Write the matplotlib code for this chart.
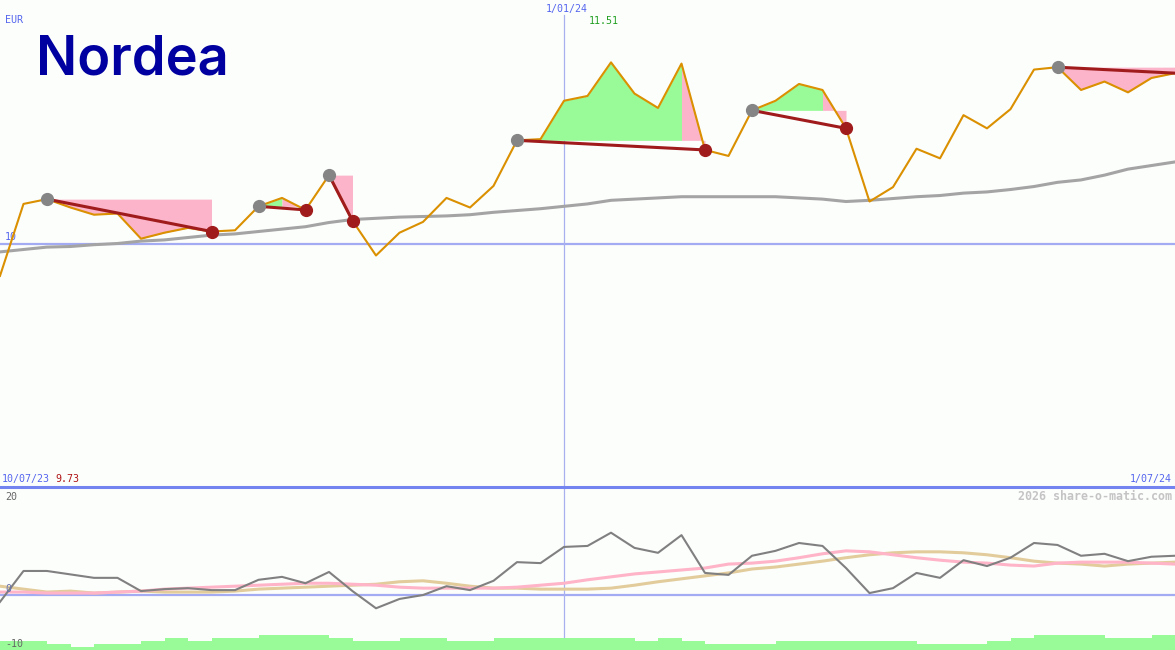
import matplotlib

matplotlib.use("Agg")

import matplotlib.pyplot as plt
import numpy as np
from matplotlib.lines import Line2D

# weekly closes, 10/07/23 .. 1/07/24
price = [9.73, 10.33, 10.37, 10.30, 10.24, 10.25, 10.04, 10.09, 10.13, 10.10,
         10.11, 10.31, 10.38, 10.28, 10.57, 10.19, 9.90, 10.09, 10.18, 10.38,
         10.30, 10.48, 10.86, 10.87, 11.19, 11.23, 11.51, 11.25, 11.13, 11.50,
         10.78, 10.73, 11.11, 11.19, 11.33, 11.28, 10.96, 10.35, 10.47, 10.79,
         10.71, 11.07, 10.96, 11.12, 11.45, 11.47, 11.28, 11.35, 11.26, 11.38,
         11.42]
avg = [9.93, 9.95, 9.97, 9.975, 9.99, 10.00, 10.02, 10.03, 10.05, 10.07,
       10.08, 10.10, 10.12, 10.14, 10.175, 10.20, 10.21, 10.22, 10.225, 10.23,
       10.24, 10.26, 10.275, 10.29, 10.31, 10.33, 10.36, 10.37, 10.38, 10.39,
       10.39, 10.39, 10.39, 10.39, 10.38, 10.37, 10.35, 10.36, 10.375, 10.39,
       10.40, 10.42, 10.43, 10.45, 10.475, 10.51, 10.53, 10.57, 10.62, 10.65,
       10.68]
# (peak, exit) week indices of the drawn patterns; exit None = still open
patterns = [(2, 9), (11, 13), (14, 15), (22, 30), (32, 36), (45, None)]

osc = [-1.4, 4.9, 4.9, 4.2, 3.5, 3.5, 0.8, 1.2, 1.4, 1.0, 1.0, 3.1, 3.7, 2.4,
       4.7, 0.8, -2.7, -0.8, 0.0, 1.8, 1.0, 2.9, 6.7, 6.5, 9.8, 10.0, 12.7, 9.6,
       8.6, 12.2, 4.5, 4.1, 8.0, 9.0, 10.6, 10.0, 5.5, 0.4, 1.4, 4.5, 3.5, 7.1,
       5.9, 7.6, 10.6, 10.2, 8.0, 8.4, 6.9, 7.8, 8.0]
sig_pink = [0.6, 0.6, 0.4, 0.4, 0.4, 0.6, 0.8, 1.2, 1.4, 1.6, 1.8, 2.0, 2.2,
            2.4, 2.4, 2.2, 2.0, 1.6, 1.4, 1.4, 1.4, 1.4, 1.6, 2.0, 2.4, 3.1,
            3.7, 4.3, 4.7, 5.1, 5.5, 6.3, 6.5, 6.9, 7.6, 8.4, 9.0, 8.8, 8.2,
            7.6, 7.1, 6.7, 6.5, 6.1, 5.9, 6.5, 6.7, 6.7, 6.7, 6.5, 6.3]
sig_tan = [1.8, 1.2, 0.6, 0.8, 0.4, 0.6, 0.8, 0.6, 0.6, 0.6, 0.8, 1.2, 1.4,
           1.6, 1.8, 2.0, 2.2, 2.7, 2.9, 2.4, 1.8, 1.4, 1.4, 1.2, 1.2, 1.2,
           1.4, 2.0, 2.7, 3.3, 3.9, 4.5, 5.3, 5.7, 6.3, 6.9, 7.6, 8.2, 8.6,
           8.8, 8.8, 8.6, 8.2, 7.6, 6.9, 6.5, 6.3, 5.9, 6.3, 6.5, 6.7]
volume = [3, 3, 2, 1, 2, 2, 3, 4, 3, 4, 4, 5, 5, 5, 4, 3, 3, 4, 4, 3, 3, 4,
          4, 4, 4, 4, 4, 3, 4, 3, 2, 2, 2, 3, 3, 3, 3, 3, 3, 2, 2, 2, 3, 4, 5,
          5, 5, 4, 4, 5]

new_year = 24
labels = {"start": "10/07/23", "mid": "1/01/24", "end": "1/07/24"}

BG = "#fcfefc"
BLUE = "#5566ee"
PINK = "#fbb4c9"
GREEN = "#98fb98"
DARKRED = "#a01c1c"
MONO = "DejaVu Sans Mono"

x = np.arange(len(price))
p = np.array(price)
last = len(price) - 1

fig = plt.figure(figsize=(11.75, 6.5), dpi=100, facecolor=BG)
H = 650.0
top = fig.add_axes([0, 163 / H, 1, 487 / H])
vol = fig.add_axes([0, 0, 1, 30 / H], zorder=0)
bot = fig.add_axes([0, 0, 1, 161 / H], zorder=1)
for ax in (top, bot, vol):
    ax.set_facecolor("none")
    ax.axis("off")
    ax.set_xlim(0, last)

top.set_ylim(7.97, 12.03)
bot.set_ylim(-11.2, 21.6)
vol.set_ylim(0, 10)

# ---- price panel
top.axhline(10, color="#a3abf2", lw=1.6, zorder=1)
top.axvline(new_year, ymax=0.969, color="#a8b0ee", lw=0.9, zorder=1)

for s, e in patterns:
    end = e if e is not None else last
    level = p[s]
    # segment colour: green while the week closes above the peak level
    cols = [GREEN if p[k + 1] > level else PINK for k in range(s, end)]
    k0 = s
    while k0 < end:
        k1 = k0
        while k1 + 1 < end and cols[k1 + 1 - s] == cols[k0 - s]:
            k1 += 1
        top.fill_between(x[k0:k1 + 2], level, p[k0:k1 + 2],
                         color=cols[k0 - s], lw=0, zorder=2)
        k0 = k1 + 1

top.plot(x, avg, color="#a4a4a4", lw=2.2, zorder=3)
top.plot(x, price, color="#da9000", lw=1.5, zorder=4)

for s, e in patterns:
    end = e if e is not None else last
    top.plot([s, end], [p[s], p[end]], color=DARKRED, lw=2.2, zorder=5)
    top.plot(s, p[s], "o", ms=8.5, color="#858585", zorder=6)
    if e is not None:
        top.plot(e, p[e], "o", ms=8.5, color=DARKRED, zorder=6)

top.annotate("EUR", xy=(0, 1), xycoords="axes fraction", xytext=(5, -20),
             textcoords="offset pixels", va="center", ha="left",
             color=BLUE, fontsize=7.2, family=MONO)
top.annotate("10", xy=(0, 10), xycoords=("axes fraction", "data"),
             xytext=(5, 1), textcoords="offset pixels", va="bottom",
             color=BLUE, fontsize=7.2, family=MONO)
top.annotate(labels["mid"], xy=(new_year, 1), xycoords=("data", "axes fraction"),
             xytext=(3, -9), textcoords="offset pixels", va="center",
             ha="center", color=BLUE, fontsize=7.2, family=MONO)
top.annotate(f"{max(price):.2f}", xy=(new_year, 1),
             xycoords=("data", "axes fraction"), xytext=(25, -21),
             textcoords="offset pixels", va="center", ha="left",
             color="#22a022", fontsize=7.2, family=MONO)
top.annotate(labels["start"], xy=(0, 0), xycoords="axes fraction",
             xytext=(2, 8), textcoords="offset pixels", va="center",
             color=BLUE, fontsize=7.2, family=MONO)
top.annotate(f"{min(price):.2f}", xy=(0, 0), xycoords="axes fraction",
             xytext=(55, 8), textcoords="offset pixels", va="center",
             color="#b01515", fontsize=7.2, family=MONO)
top.annotate(labels["end"], xy=(1, 0), xycoords="axes fraction",
             xytext=(-3, 8), textcoords="offset pixels", va="center",
             ha="right", color=BLUE, fontsize=7.2, family=MONO)
top.text(0.031, 0.877, "Nordea", transform=top.transAxes, color="#0000a0",
         fontsize=39, family="Inter", fontweight="semibold", va="center",
         ha="left")

fig.add_artist(Line2D([0, 1], [163 / H, 163 / H], color="#7383f0", lw=2.2,
                      transform=fig.transFigure))

# ---- indicator panel
bot.axhline(0, color="#a3abf2", lw=1.6, zorder=1)
bot.axvline(new_year, ymin=0.08, color="#a8b0ee", lw=0.9, zorder=1)
bot.plot(x, sig_tan, color="#e3cc9c", lw=2.2, zorder=2)
bot.plot(x, sig_pink, color="#ffb4c8", lw=2.2, zorder=3)
bot.plot(x, osc, color="#808080", lw=1.5, zorder=4)

bot.annotate("2026 share-o-matic.com", xy=(1, 1), xycoords="axes fraction",
             xytext=(-3, -8), textcoords="offset pixels", va="center",
             ha="right", color="#c4c4c4", fontsize=8.4, family=MONO,
             fontweight="bold")
for val, col, dy, va in [(20, "#666666", 0, "center"),
                         (0, "#6670b0", 1, "bottom"),
                         (-10, "#666666", 0, "center")]:
    bot.annotate(str(val), xy=(0, val), xycoords=("axes fraction", "data"),
                 xytext=(5, dy), textcoords="offset pixels", va=va,
                 color=col, fontsize=7.2, family=MONO, zorder=6)

vol.bar(x[:-1], volume, width=1.0, align="edge", color=GREEN, lw=0, zorder=3)

fig.savefig("out.png", dpi=100, facecolor=BG)
